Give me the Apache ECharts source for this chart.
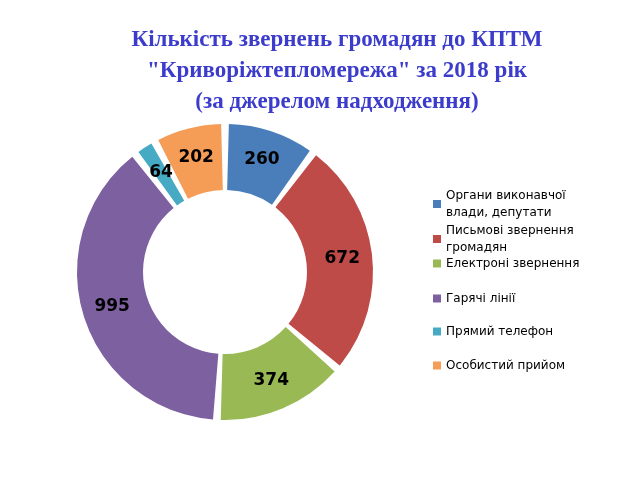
<!DOCTYPE html>
<html><head><meta charset="utf-8">
<script src="https://cdn.jsdelivr.net/npm/echarts@6/dist/echarts.min.js"></script>
<style>html,body{margin:0;padding:0;background:#fff}#c{width:632px;height:477px}</style>
</head><body><div id="c"></div>
<script>
const categories = ["Органи виконавчої\nвлади, депутати","Письмові звернення\nгромадян","Електроні звернення","Гарячі лінії","Прямий телефон","Особистий прийом"];
const values = [260,672,374,995,64,202];
const colors = ["#4a7ebb","#be4b48","#98b954","#7d60a0","#46aac5","#f59d56"];
const legendTops = [182,217,250,285,318,352];
const chart = echarts.init(document.getElementById('c'));
chart.setOption({
  animation:false,
  title:{text:'Кількість звернень громадян до КПТМ\n"Криворіжтепломережа" за 2018 рік\n(за джерелом надходження)',
    left:332,top:20,textAlign:'center',
    textStyle:{fontFamily:'Liberation Serif',fontSize:23,fontWeight:'bold',color:'#3b3bcc',lineHeight:31}},
  legend: categories.map((c,i)=>({orient:'vertical',left:428,top:legendTops[i],data:[c],
    icon:'rect',itemWidth:8,itemHeight:8,itemGap:0,
    textStyle:{fontFamily:'DejaVu Sans',fontSize:12,color:'#000',lineHeight:17}})),
  series:[{type:'pie',center:[225,272],radius:[82,148],startAngle:90,clockwise:true,
    padAngle:3,
    label:{position:'inside',formatter:'{c}',fontFamily:'DejaVu Sans',fontSize:17,fontWeight:'bold',color:'#000'},
    labelLine:{show:false},
    data:categories.map((c,i)=>({name:c,value:values[i],itemStyle:{color:colors[i]}}))}]
});
</script></body></html>
